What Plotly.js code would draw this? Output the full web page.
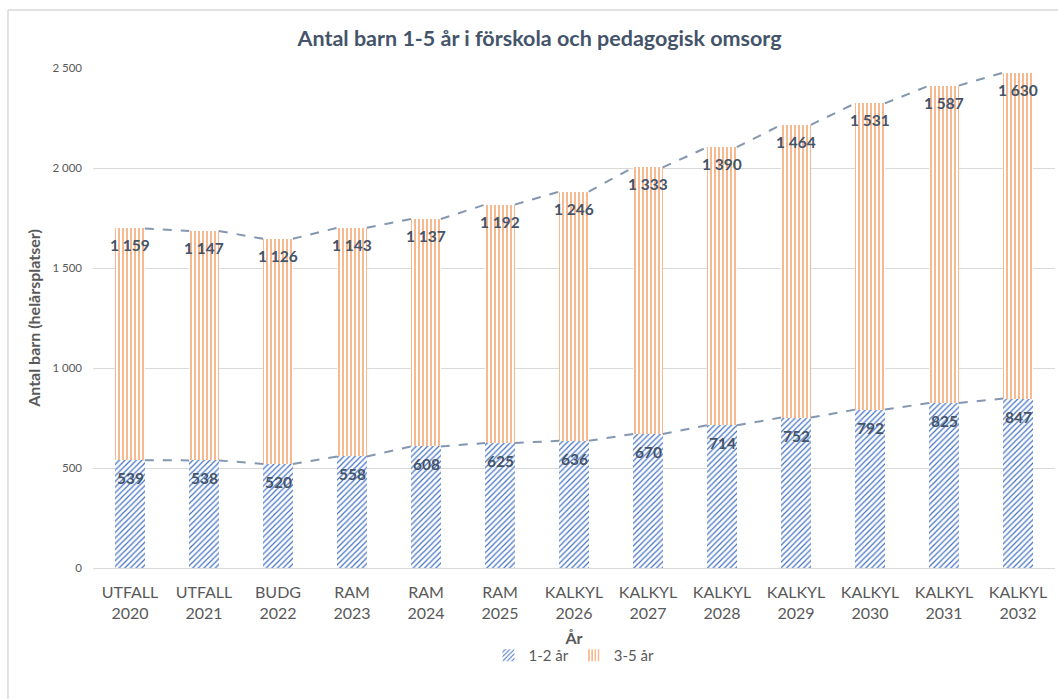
<!DOCTYPE html>
<html>
<head>
<meta charset="utf-8">
<script src="https://cdn.plot.ly/plotly-3.0.1.min.js"></script>
<style>
html,body{margin:0;padding:0;background:#fff;}
#chart{width:1058px;height:699px;}
</style>
</head>
<body>
<div id="chart"></div>
<script>
var categories = ["UTFALL<br>2020","UTFALL<br>2021","BUDG<br>2022","RAM<br>2023","RAM<br>2024","RAM<br>2025","KALKYL<br>2026","KALKYL<br>2027","KALKYL<br>2028","KALKYL<br>2029","KALKYL<br>2030","KALKYL<br>2031","KALKYL<br>2032"];
var age12 = [539,538,520,558,608,625,636,670,714,752,792,825,847];
var age35 = [1159,1147,1126,1143,1137,1192,1246,1333,1390,1464,1531,1587,1630];
var seriesNames = ["1-2 år","3-5 år"];
var yTicks = [0,500,1000,1500,2000,2500];

var idx = categories.map(function(_, i){ return i; });
var totals = age12.map(function(v, i){ return v + age35[i]; });
var BW = 0.4;

function fmt(v){ return String(v).replace(/\B(?=(\d{3})+(?!\d))/g, " "); }

function seriesLine(vals){
  var xs = [], ys = [];
  for (var i = 0; i < vals.length - 1; i++){
    xs.push(idx[i] + BW/2, idx[i+1] - BW/2, null);
    ys.push(vals[i], vals[i+1], null);
  }
  return {x: xs, y: ys};
}
var l1 = seriesLine(age12), l2 = seriesLine(totals);

var FONT = "Lato, 'Open Sans', sans-serif";
var textCol = "#595959";
var labCol = "#44546A";

var traces = [
  {type:"bar", name: seriesNames[0], x: idx, y: age12, width: BW,
   marker:{color:"#ffffff", line:{width:0},
     pattern:{shape:"/", fgcolor:"#4472C4", bgcolor:"#ffffff", size:4, solidity:0.3, fillmode:"replace"}},
   hoverinfo:"y"},
  {type:"bar", name: seriesNames[1], x: idx, y: age35, width: BW,
   marker:{color:"#ffffff", line:{width:0},
     pattern:{shape:"|", fgcolor:"#F08A45", bgcolor:"#ffffff", size:4, solidity:0.3, fillmode:"replace"}},
   hoverinfo:"y"},
  {type:"scatter", mode:"lines", x: l1.x, y: l1.y, showlegend:false, hoverinfo:"skip",
   line:{color:"#8497B0", width:2, dash:"dash"}, connectgaps:false},
  {type:"scatter", mode:"lines", x: l2.x, y: l2.y, showlegend:false, hoverinfo:"skip",
   line:{color:"#8497B0", width:2, dash:"dash"}, connectgaps:false}
];

var annotations = [];
idx.forEach(function(i){
  annotations.push({x:i, y:age12[i], xref:"x", yref:"y", text:fmt(age12[i]), showarrow:false,
    yanchor:"middle", yshift:-18, font:{family:FONT, size:15.5, color:labCol, weight:"bold"}});
  annotations.push({x:i, y:totals[i], xref:"x", yref:"y", text:fmt(age35[i]), showarrow:false,
    yanchor:"middle", yshift:-17, font:{family:FONT, size:15.5, color:labCol, weight:"bold"}});
});

var layout = {
  width:1058, height:699,
  margin:{l:93, r:3, t:68, b:131},
  paper_bgcolor:"#ffffff", plot_bgcolor:"#ffffff",
  barmode:"stack",
  separators:", ",
  font:{family:FONT, color:textCol},
  title:{text:"Antal barn 1-5 år i förskola och pedagogisk omsorg", x:0.51, xanchor:"center",
         y:0.945, yanchor:"middle", yref:"container",
         font:{family:FONT, size:21.5, color:labCol, weight:"bold"}},
  xaxis:{range:[-0.5, 12.5], tickvals: idx, ticktext: categories, showgrid:false, zeroline:false,
         showline:true, linecolor:"#D9D9D9", linewidth:1, ticks:"",
         ticklabelstandoff:10,
         tickfont:{family:FONT, size:16, color:textCol},
         title:{text:"År", font:{family:FONT, size:16, color:textCol, weight:"bold"}, standoff:11}},
  yaxis:{range:[0,2500], tickvals: yTicks, separatethousands:true, tickformat:",d",
         showgrid:true, gridcolor:"#D9D9D9", gridwidth:1, zeroline:false, showline:false, ticks:"",
         ticklabelstandoff:10,
         tickfont:{family:FONT, size:11.5, color:textCol},
         title:{text:"Antal barn (helårsplatser)", font:{family:FONT, size:16, color:textCol, weight:"bold"}, standoff:7}},
  legend:{orientation:"h", x:0.5, xanchor:"center", y:-0.175, yanchor:"middle",
          font:{family:FONT, size:15, color:textCol}, traceorder:"normal", itemwidth:30},
  annotations: annotations,
  shapes:[
    {type:"line", xref:"paper", yref:"paper", x0:-0.0884, x1:-0.0884, y0:-0.3, y1:1.116, line:{color:"#D9D9D9", width:1.5}},
    {type:"line", xref:"paper", yref:"paper", x0:-0.0884, x1:1.01, y0:1.116, y1:1.116, line:{color:"#D9D9D9", width:1.5}}
  ],
  showlegend:true
};

Plotly.newPlot("chart", traces, layout, {displayModeBar:false, staticPlot:true});
</script>
</body>
</html>
